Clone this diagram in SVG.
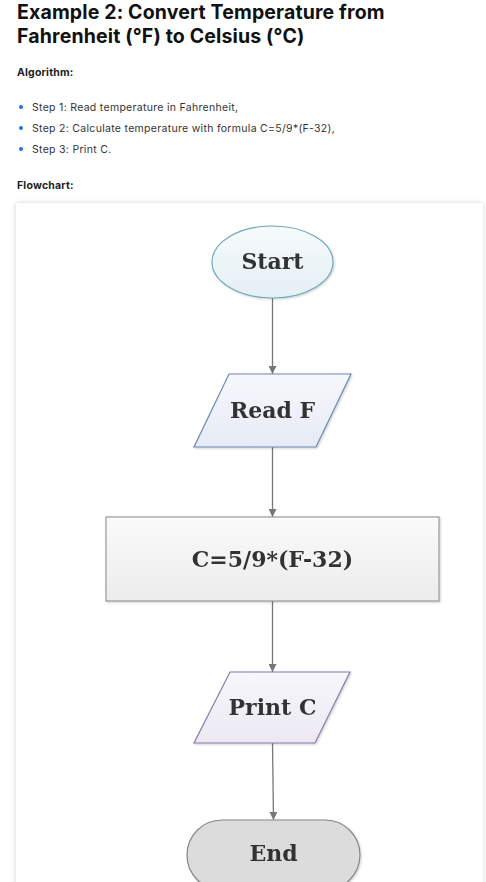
<svg xmlns="http://www.w3.org/2000/svg" width="486" height="882" viewBox="0 0 486 882">
<defs>
<style>
.h1{font-family:Inter,"Open Sans","Liberation Sans",sans-serif;font-weight:700;font-size:19.5px;letter-spacing:0.15px;fill:#111;}
.h3{font-family:Inter,"Open Sans","Liberation Sans",sans-serif;font-weight:700;font-size:10.5px;letter-spacing:0.2px;fill:#222;}
.li{font-family:Inter,"Open Sans","Liberation Sans",sans-serif;font-size:10.5px;letter-spacing:0.3px;fill:#333;}
.lbl{font-family:"DejaVu Serif","Liberation Serif",serif;font-weight:700;font-size:22px;fill:#333;text-anchor:middle;dominant-baseline:central;}
.edge{stroke:#777;stroke-width:1.3;fill:none;}
</style>
<linearGradient id="gStart" x1="0" y1="0" x2="0" y2="1"><stop offset="0" stop-color="#f6fafc"/><stop offset="1" stop-color="#e4eff4"/></linearGradient>
<linearGradient id="gRead" x1="0" y1="0" x2="0" y2="1"><stop offset="0" stop-color="#f6f8fc"/><stop offset="1" stop-color="#e6eaf5"/></linearGradient>
<linearGradient id="gProc" x1="0" y1="0" x2="0" y2="1"><stop offset="0" stop-color="#fafafa"/><stop offset="1" stop-color="#ececec"/></linearGradient>
<linearGradient id="gPrint" x1="0" y1="0" x2="0" y2="1"><stop offset="0" stop-color="#f8f7fb"/><stop offset="1" stop-color="#ebe8f2"/></linearGradient>
<filter id="cardShadow" x="-5%" y="-5%" width="110%" height="110%"><feGaussianBlur in="SourceAlpha" stdDeviation="2.5"/><feOffset dx="0" dy="0"/><feComponentTransfer><feFuncA type="linear" slope="0.18"/></feComponentTransfer><feMerge><feMergeNode/><feMergeNode in="SourceGraphic"/></feMerge></filter>
<filter id="nodeShadow" x="-10%" y="-10%" width="125%" height="130%"><feGaussianBlur in="SourceAlpha" stdDeviation="1"/><feOffset dx="1" dy="1"/><feComponentTransfer><feFuncA type="linear" slope="0.2"/></feComponentTransfer><feMerge><feMergeNode/><feMergeNode in="SourceGraphic"/></feMerge></filter>
<marker id="arr" viewBox="0 0 10 10" refX="10" refY="5" markerWidth="8" markerHeight="8" markerUnits="userSpaceOnUse" orient="auto"><path d="M0,0 L10,5 L0,10 z" fill="#777"/></marker>
</defs>
<rect width="486" height="882" fill="#fff"/>
<g id="header">
<text class="h1" x="17" y="19">Example 2: Convert Temperature from</text>
<text class="h1" x="17" y="43">Fahrenheit (°F) to Celsius (°C)</text>
<text class="h3" x="17" y="75.5">Algorithm:</text>
<circle cx="21" cy="107" r="2" fill="#1a73e8"/>
<circle cx="21" cy="128" r="2" fill="#1a73e8"/>
<circle cx="21" cy="149" r="2" fill="#1a73e8"/>
<text class="li" x="32" y="110.5">Step 1: Read temperature in Fahrenheit,</text>
<text class="li" x="32" y="131.5">Step 2: Calculate temperature with formula C=5/9*(F-32),</text>
<text class="li" x="32" y="152.5">Step 3: Print C.</text>
<text class="h3" x="17" y="188.5">Flowchart:</text>
</g>
<rect id="card" x="16" y="203" width="467" height="700" fill="#fff" filter="url(#cardShadow)"/>
<g id="connectors">
<line class="edge" x1="272.5" y1="298" x2="272.5" y2="374" marker-end="url(#arr)"/>
<line class="edge" x1="272.5" y1="447" x2="272.5" y2="517" marker-end="url(#arr)"/>
<line class="edge" x1="272.5" y1="601" x2="272.5" y2="672" marker-end="url(#arr)"/>
<line class="edge" x1="272.5" y1="743" x2="273.5" y2="820" marker-end="url(#arr)"/>
</g>
<g id="start" filter="url(#nodeShadow)">
<ellipse cx="272.5" cy="262" rx="60.5" ry="36" fill="url(#gStart)" stroke="#6fa9b9" stroke-width="1.2"/>
<text class="lbl" x="272.5" y="261">Start</text>
</g>
<g id="readF" filter="url(#nodeShadow)">
<polygon points="229,374 351,374 316,447 194,447" fill="url(#gRead)" stroke="#6c88b2" stroke-width="1.2"/>
<text class="lbl" x="272.5" y="410">Read F</text>
</g>
<g id="calc" filter="url(#nodeShadow)">
<rect x="106" y="517" width="333" height="84" fill="url(#gProc)" stroke="#999" stroke-width="1.2"/>
<text class="lbl" x="272.5" y="559">C=5/9*(F-32)</text>
</g>
<g id="printC" filter="url(#nodeShadow)">
<polygon points="230,672 350,672 315,743 194,743" fill="url(#gPrint)" stroke="#8a7aaa" stroke-width="1.2"/>
<text class="lbl" x="272.5" y="707">Print C</text>
</g>
<g id="end" filter="url(#nodeShadow)">
<rect x="187" y="820" width="173" height="70" rx="35" ry="35" fill="#dcdcdc" stroke="#888" stroke-width="1.2"/>
<text class="lbl" x="273.5" y="853">End</text>
</g>
</svg>
